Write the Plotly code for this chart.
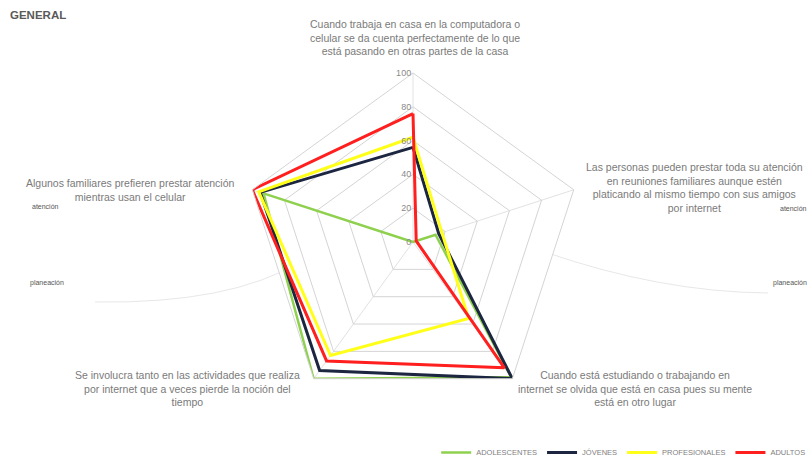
import plotly.graph_objects as go

# Radar axes (clockwise from the top)
categories = [
    "Trabaja en casa y se da cuenta de lo que pasa",
    "Presta atención en reuniones familiares",
    "Olvida que está en casa",
    "Pierde la noción del tiempo",
    "Familiares prestan atención al celular",
]
category_labels = [
    "Cuando trabaja en casa en la computadora o<br>celular se da cuenta perfectamente de lo que<br>está pasando en otras partes de la casa",
    "Las personas pueden prestar toda su atención<br>en reuniones familiares aunque estén<br>platicando al mismo tiempo con sus amigos<br>por internet",
    "Cuando está estudiando o trabajando en<br>internet se olvida que está en casa pues su mente<br>está en otro lugar",
    "Se involucra tanto en las actividades que realiza<br>por internet que a veces pierde la noción del<br>tiempo",
    "Algunos familiares prefieren prestar atención<br>mientras usan el celular",
]

series_names = ["ADOLESCENTES", "JÓVENES", "PROFESIONALES", "ADULTOS"]
adolescentes = [0, 14, 99, 100, 93]
jovenes = [56, 16, 100, 94, 95]
profesionales = [62, 18, 56, 83, 96]
adultos = [76, 2, 92, 87, 100]

radial_ticks = [0, 20, 40, 60, 80, 100]

series_values = [adolescentes, jovenes, profesionales, adultos]
series_colors = ["#8fd14f", "#1c2640", "#ffff1a", "#ff1f1f"]
series_widths = [2.5, 3, 3, 3]

fig = go.Figure()
for name, vals, col, w in zip(series_names, series_values, series_colors, series_widths):
    fig.add_trace(go.Scatterpolar(
        r=vals + vals[:1],
        theta=categories + categories[:1],
        mode="lines",
        name=name,
        line=dict(color=col, width=w),
    ))

W, H = 811, 467
cx, cy, R = 413, 242, 169

fig.update_layout(
    width=W, height=H,
    margin=dict(l=0, r=0, t=0, b=0, autoexpand=False),
    paper_bgcolor="white",
    plot_bgcolor="white",
    font=dict(family="Liberation Sans, Arial, sans-serif", size=9, color="#7f7f7f"),
    polar=dict(
        domain=dict(x=[(cx - R) / W, (cx + R) / W], y=[(H - cy - R) / H, (H - cy + R) / H]),
        bgcolor="white",
        gridshape="linear",
        angularaxis=dict(
            direction="clockwise",
            rotation=90,
            showticklabels=False,
            ticks="",
            showline=True,
            linecolor="#d4d4d4",
            linewidth=1,
            gridcolor="#e2e2e2",
            gridwidth=1,
        ),
        radialaxis=dict(
            range=[0, 100],
            tickvals=radial_ticks,
            ticktext=[str(v) for v in radial_ticks],
            angle=90,
            tickangle=90,
            side="counterclockwise",
            showline=False,
            ticks="",
            gridcolor="#d4d4d4",
            gridwidth=1,
            tickfont=dict(size=9, color="#8a8a8a"),
        ),
    ),
    showlegend=True,
    legend=dict(
        orientation="h",
        x=0.999, xanchor="right",
        y=0.0, yanchor="bottom",
        font=dict(size=7.5, color="#7f7f7f"),
        itemwidth=30,
        bgcolor="rgba(0,0,0,0)",
        tracegroupgap=0,
    ),
)

# Category captions around the radar
label_pos = [
    (415, 38),
    (694, 187),
    (635, 388),
    (187, 388),
    (130, 190),
]
for (x, y), txt in zip(label_pos, category_labels):
    fig.add_annotation(
        x=x / W, y=1 - y / H, xref="paper", yref="paper",
        text=txt, showarrow=False, align="center",
        xanchor="center", yanchor="middle",
        font=dict(size=10.5, color="#7a7a7a"),
    )

# Title
fig.add_annotation(
    x=8 / W, y=1 - 15 / H, xref="paper", yref="paper",
    text="<b>GENERAL</b>", showarrow=False,
    xanchor="left", yanchor="middle",
    font=dict(size=11.5, color="#595959"),
)

# Side notes
for x, y, txt, anc in [(30, 206, "atención", "left"), (28, 283, "planeación", "left"),
                       (809, 208, "atención", "right"), (809, 283, "planeación", "right")]:
    fig.add_annotation(
        x=x / W, y=1 - y / H, xref="paper", yref="paper",
        text=txt, showarrow=False, xanchor=anc, yanchor="middle",
        font=dict(size=7, color="#555555"),
    )

# Faint connector curves behind the labels
fig.add_shape(type="path", xref="paper", yref="paper", layer="below",
              path=f"M {95/W},{1-302/H} Q {230/W},{1-304/H} {300/W},{1-262/H}",
              line=dict(color="rgba(215,215,215,0.6)", width=1))
fig.add_shape(type="path", xref="paper", yref="paper", layer="below",
              path=f"M {545/W},{1-252/H} Q {660/W},{1-292/H} {768/W},{1-293/H}",
              line=dict(color="rgba(215,215,215,0.6)", width=1))

fig.write_html("out.html")
